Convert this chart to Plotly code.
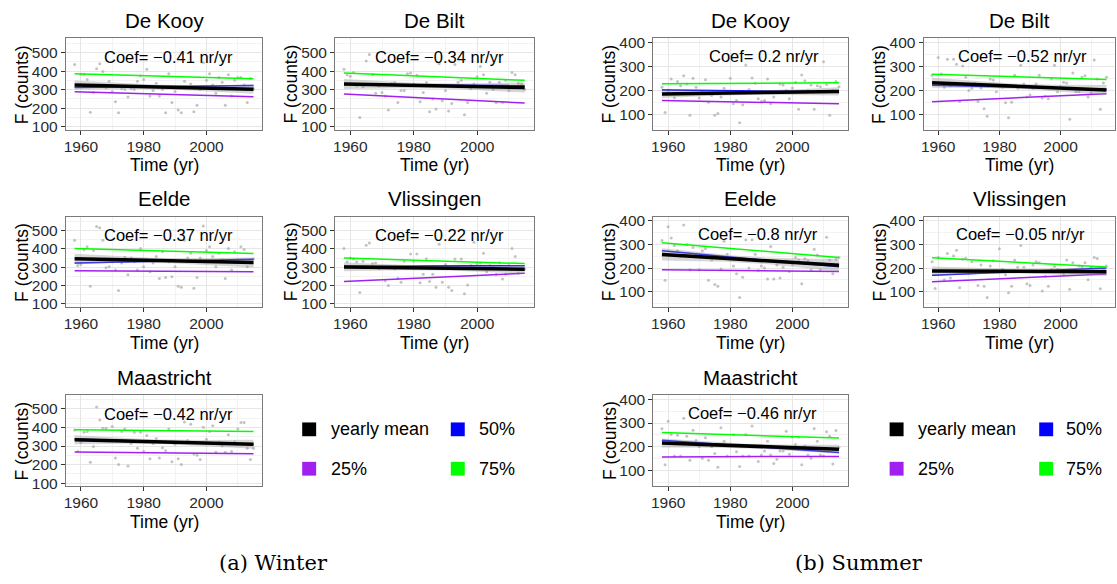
import numpy as np
import plotly.graph_objects as go

W, H = 1117, 584
years = list(range(1958, 2016))
stations = ["De Kooy", "De Bilt", "Eelde", "Vlissingen", "Maastricht"]

# ---------------- Winter yearly counts (1958-2015) ----------------
w_dekooy = [435, 320, 383, 383, 355, 178, 285, 412, 440, 398, 310, 345, 290, 235, 175, 305, 300, 260, 305, 300,
            345, 375, 355, 410, 265, 295, 335, 265, 300, 175, 385, 230, 290, 190, 175, 345, 310, 330, 180, 215,
            300, 445, 350, 385, 325, 280, 365, 340, 215, 380, 265, 350, 365, 365, 325, 230, 360, 305]
w_debilt = [410, 380, 372, 392, 320, 150, 315, 455, 490, 382, 280, 320, 285, 265, 190, 335, 338, 230, 295, 295,
            385, 390, 330, 378, 235, 285, 338, 180, 250, 195, 440, 240, 295, 185, 225, 435, 340, 350, 165, 230,
            305, 330, 370, 425, 380, 280, 340, 300, 230, 340, 230, 350, 295, 392, 380, 335, 330, 300]
w_eelde = [447, 310, 315, 395, 412, 197, 391, 522, 515, 447, 298, 303, 330, 285, 174, 324, 355, 259, 350, 330,
           285, 403, 303, 340, 275, 324, 359, 239, 385, 244, 330, 249, 303, 197, 191, 447, 350, 377, 186, 244,
           350, 525, 391, 412, 359, 303, 377, 341, 239, 403, 285, 385, 340, 412, 397, 303, 330, 345]
w_vlissingen = [403, 330, 350, 345, 330, 162, 333, 420, 432, 320, 324, 292, 300, 227, 200, 298, 290, 240, 218, 333,
                298, 373, 333, 373, 215, 262, 347, 222, 262, 191, 425, 218, 315, 191, 174, 345, 300, 345, 156, 203,
                310, 437, 320, 324, 377, 275, 310, 303, 262, 325, 236, 262, 310, 403, 359, 268, 290, 290]
w_maastricht = [387, 270, 319, 375, 378, 213, 297, 510, 441, 396, 396, 330, 406, 236, 201, 378, 392, 192, 314, 375,
                288, 375, 270, 357, 232, 314, 340, 236, 291, 274, 392, 215, 309, 232, 201, 430, 330, 418, 257, 250,
                227, 401, 337, 378, 410, 267, 320, 300, 267, 361, 270, 323, 392, 427, 427, 288, 227, 288]

# ---------------- Summer yearly counts (1958-2015) ----------------
s_dekooy = [213, 107, 200, 248, 169, 237, 220, 262, 227, 96, 251, 213, 168, 195, 245, 151, 179, 96, 103, 172,
            209, 190, 251, 144, 158, 65, 140, 307, 204, 252, 230, 165, 154, 158, 248, 144, 172, 193, 227, 223,
            200, 165, 210, 234, 121, 265, 241, 200, 223, 121, 220, 215, 320, 225, 96, 200, 237, 215]
s_debilt = [264, 230, 338, 269, 213, 331, 220, 331, 310, 154, 303, 255, 200, 209, 230, 154, 210, 123, 92, 248,
            244, 195, 220, 213, 148, 85, 151, 264, 209, 306, 227, 172, 181, 209, 227, 264, 168, 176, 165, 248,
            306, 195, 215, 234, 231, 79, 273, 195, 195, 255, 262, 172, 190, 328, 248, 121, 231, 255]
s_eelde = [317, 148, 375, 328, 296, 273, 250, 383, 300, 193, 287, 260, 193, 273, 282, 148, 234, 130, 123, 196,
           314, 259, 240, 209, 176, 75, 161, 320, 200, 320, 259, 190, 209, 200, 154, 292, 154, 213, 158, 204,
           230, 186, 215, 245, 234, 134, 240, 231, 193, 280, 255, 193, 220, 331, 234, 176, 237, 245]
s_vlissingen = [227, 114, 245, 190, 151, 262, 158, 251, 276, 117, 238, 242, 179, 227, 180, 126, 213, 123, 75, 209,
                231, 190, 282, 195, 172, 96, 123, 234, 204, 296, 204, 134, 126, 213, 227, 223, 103, 165, 123, 195,
                206, 195, 185, 172, 234, 110, 223, 190, 209, 206, 223, 151, 200, 245, 241, 112, 195, 209]
s_maastricht = [276, 125, 307, 252, 162, 249, 162, 320, 245, 144, 270, 227, 200, 152, 238, 144, 200, 172, 114, 280,
                224, 162, 210, 252, 180, 118, 162, 252, 162, 287, 204, 139, 166, 183, 224, 166, 130, 148, 183, 183,
                266, 169, 241, 210, 241, 125, 204, 166, 152, 277, 224, 166, 162, 263, 245, 128, 269, 197]

winter_counts = [w_dekooy, w_debilt, w_eelde, w_vlissingen, w_maastricht]
summer_counts = [s_dekooy, s_debilt, s_eelde, s_vlissingen, s_maastricht]

winter_coef = ["\u22120.41", "\u22120.34", "\u22120.37", "\u22120.22", "\u22120.42"]
summer_coef = ["0.2", "\u22120.52", "\u22120.8", "\u22120.05", "\u22120.46"]

# fitted lines: value at 1958 and at 2015
line_years = [1958, 2015]
winter_mean = [(325, 302), (330, 311), (347, 326), (302, 289), (334, 310)]
winter_q25 = [(288, 262), (276, 228), (281, 276), (223, 267), (268, 259)]
winter_q50 = [(311, 322), (328, 322), (324, 344), (305, 308), (338, 308)]
winter_q75 = [(385, 358), (390, 350), (403, 375), (350, 320), (388, 378)]
winter_band = [24, 27, 27, 24, 24]   # half width of the CI at the ends
summer_mean = [(185, 196), (232, 202), (258, 212), (188, 185), (216, 190)]
summer_q25 = [(158, 144), (153, 186), (193, 186), (142, 175), (158, 160)]
summer_q50 = [(202, 195), (222, 205), (273, 206), (170, 200), (228, 176)]
summer_q75 = [(228, 232), (268, 246), (307, 245), (244, 205), (260, 237)]
summer_band = [17, 21, 26, 19, 19]

winter_coef_pos = [(1988, 478), (1988, 478), (1988, 478), (1988, 478), (1988, 472)]
summer_coef_pos = [(1991, 345), (1987.5, 345), (1989, 345), (1987, 345), (1987, 342)]

legend_labels = ["yearly mean", "50%", "25%", "75%"]
legend_colors = ["#000000", "#0000FF", "#A020F0", "#00FF00"]
C25, C50, C75 = "#A020F0", "#0000FF", "#00FF00"

# ---------------- layout geometry (pixels) ----------------
winter_cols = [(63, 260), (333, 532)]
summer_cols = [(652, 847), (923, 1115)]
rows = [(35, 128), (216, 308), (397, 490)]
grid_pos = [(0, 0), (0, 1), (1, 0), (1, 1), (2, 0)]

fig = go.Figure()
layout = dict(width=W, height=H, margin=dict(l=0, r=0, t=0, b=0),
              paper_bgcolor="white", plot_bgcolor="white", showlegend=False,
              font=dict(family="Liberation Sans, Arial, sans-serif", color="#1a1a1a"))
annotations = []
shapes = []


def px(x):
    return x / W


def py(y):
    return 1 - y / H


def band_halfwidth(xs, hw_end):
    xs = np.asarray(xs, float)
    n = len(years)
    xbar = np.mean(years)
    sxx = np.sum((np.asarray(years) - xbar) ** 2)
    f = np.sqrt(1 / n + (xs - xbar) ** 2 / sxx)
    fend = np.sqrt(1 / n + (years[-1] - xbar) ** 2 / sxx)
    return hw_end * f / fend


k = 0
for season, cols, counts, coefs, means, q25s, q50s, q75s, bands, cpos, yr, ytv, yminor in [
    ("w", winter_cols, winter_counts, winter_coef, winter_mean, winter_q25, winter_q50, winter_q75,
     winter_band, winter_coef_pos, [82, 576], [100, 200, 300, 400, 500], [150, 250, 350, 450, 550]),
    ("s", summer_cols, summer_counts, summer_coef, summer_mean, summer_q25, summer_q50, summer_q75,
     summer_band, summer_coef_pos, [34, 418], [100, 200, 300, 400], [50, 150, 250, 350]),
]:
    for i, st in enumerate(stations):
        k += 1
        r, c = grid_pos[i]
        x0, x1 = cols[c]
        y0, y1 = rows[r]
        xa = "x" if k == 1 else f"x{k}"
        ya = "y" if k == 1 else f"y{k}"
        xkey = "xaxis" if k == 1 else f"xaxis{k}"
        ykey = "yaxis" if k == 1 else f"yaxis{k}"
        common = dict(ticks="outside", ticklen=4, tickwidth=1, tickcolor="#333333",
                      showline=True, mirror=True, linecolor="#7a7a7a", linewidth=1,
                      showgrid=True, gridcolor="#e6e6e6", gridwidth=1, zeroline=False,
                      tickfont=dict(size=15.5, color="#2a2a2a", family="Liberation Sans, Arial, sans-serif"))
        layout[xkey] = dict(domain=[px(x0), px(x1)], anchor=ya, range=[1955.2, 2017.8],
                            tickmode="array", tickvals=[1960, 1980, 2000], ticklabelstandoff=-2,
                            minor=dict(tickmode="array", tickvals=[1970, 1990, 2010], showgrid=True,
                                       gridcolor="#f3f3f3", gridwidth=0.7, ticks=""),
                            **common)
        layout[ykey] = dict(domain=[py(y1), py(y0)], anchor=xa, range=yr,
                            tickmode="array", tickvals=ytv,
                            minor=dict(tickmode="array", tickvals=yminor, showgrid=True,
                                       gridcolor="#f3f3f3", gridwidth=0.7, ticks=""),
                            **common)

        vals = counts[i]
        fig.add_trace(go.Scatter(x=years, y=vals, mode="markers", xaxis=xa, yaxis=ya,
                                 marker=dict(size=3, color="rgba(170,170,170,0.7)"),
                                 hoverinfo="skip"))
        for q, colr in [(q25s[i], C25), (q50s[i], C50), (q75s[i], C75)]:
            fig.add_trace(go.Scatter(x=line_years, y=list(q), mode="lines", xaxis=xa, yaxis=ya,
                                     line=dict(color=colr, width=1.5), hoverinfo="skip"))
        m0, m1 = means[i]
        yrs = np.array(years, float)
        mline = m0 + (m1 - m0) * (yrs - years[0]) / (years[-1] - years[0])
        hw = band_halfwidth(yrs, bands[i])
        fig.add_trace(go.Scatter(x=list(yrs) + list(yrs[::-1]),
                                 y=list(mline + hw) + list((mline - hw)[::-1]),
                                 mode="lines", fill="toself", xaxis=xa, yaxis=ya,
                                 fillcolor="rgba(153,153,153,0.4)", line=dict(width=0),
                                 hoverinfo="skip"))
        fig.add_trace(go.Scatter(x=line_years, y=[m0, m1], mode="lines", xaxis=xa, yaxis=ya,
                                 line=dict(color="black", width=3.5), hoverinfo="skip"))

        # texts
        cx = (x0 + x1) / 2
        annotations.append(dict(x=px(cx), y=py(y0 - 18), xref="paper", yref="paper", text=st,
                                showarrow=False, font=dict(size=20.5, color="black"),
                                xanchor="center", yanchor="middle"))
        annotations.append(dict(x=px(cx), y=py(y1 + 36), xref="paper", yref="paper", text="Time (yr)",
                                showarrow=False, font=dict(size=17.5, color="black"),
                                xanchor="center", yanchor="middle"))
        annotations.append(dict(x=px(x0 - 44), y=py((y0 + y1) / 2), xref="paper", yref="paper",
                                text="F (counts)", textangle=-90, showarrow=False,
                                font=dict(size=17.5, color="black"), xanchor="center", yanchor="middle"))
        annotations.append(dict(x=cpos[i][0], y=cpos[i][1], xref=xa, yref=ya,
                                text=f"Coef= {coefs[i]} nr/yr", showarrow=False,
                                font=dict(size=16.5, color="black"), xanchor="center", yanchor="middle"))

# legends (manual key blocks)
for sq_cols, txt_cols in [((300, 449), (327, 475)), ((889, 1039), (915, 1064))]:
    for j, (lab, colr) in enumerate(zip(legend_labels, legend_colors)):
        rr, cc = divmod(j, 2)
        cy = [432, 472][rr]
        sx = sq_cols[cc]
        shapes.append(dict(type="rect", xref="paper", yref="paper", x0=px(sx), x1=px(sx + 14),
                           y0=py(cy + 7), y1=py(cy - 7), fillcolor=colr, line=dict(width=0)))
        annotations.append(dict(x=px(txt_cols[cc]), y=py(cy), xref="paper", yref="paper", text=lab,
                                showarrow=False, font=dict(size=18, color="black"),
                                xanchor="left", yanchor="middle"))

# captions
for text, cx in [("(a) Winter", 271), ("(b) Summer", 858)]:
    annotations.append(dict(x=px(cx), y=py(568), xref="paper", yref="paper", text=text,
                            showarrow=False, font=dict(size=21, color="black", family="DejaVu Serif, serif"),
                            xanchor="center", yanchor="middle"))

layout["annotations"] = annotations
layout["shapes"] = shapes
fig.update_layout(**layout)
fig.write_html("out.html", config={"displayModeBar": False},
               post_script="document.body.style.margin='0';document.body.style.overflow='hidden';")
